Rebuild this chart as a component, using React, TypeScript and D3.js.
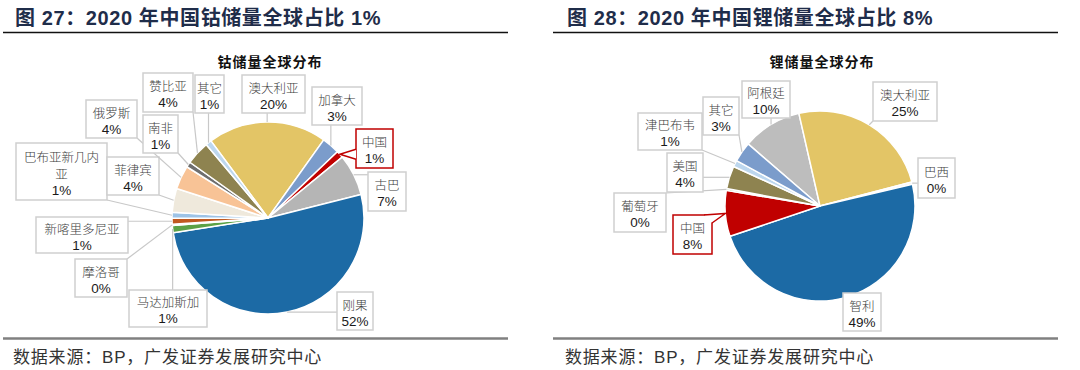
import React, { useRef, useEffect } from "react";
import * as d3 from "d3";

// cobalt reserves 2020, clockwise from 澳大利亚
const cobaltNames = ["澳大利亚", "加拿大", "中国", "古巴", "刚果", "马达加斯加", "摩洛哥", "新喀里多尼亚", "巴布亚新几内亚", "菲律宾", "俄罗斯", "南非", "赞比亚", "其它"];
const cobaltShares = [20, 3, 1.2, 7, 51.5, 1.2, 0.2, 1, 1, 4, 4, 0.9, 4, 1];

// lithium reserves 2020, clockwise from 阿根廷
const lithiumNames = ["阿根廷", "澳大利亚", "巴西", "智利", "中国", "葡萄牙", "美国", "津巴布韦", "其它"];
const lithiumShares = [10.1, 24.5, 0.4, 48.5, 7.8, 0.3, 3.9, 1.1, 3.4];

const panelTitles = ["图 27：2020 年中国钴储量全球占比 1%", "图 28：2020 年中国锂储量全球占比 8%"];
const chartTitles = ["钴储量全球分布", "锂储量全球分布"];
const sourceText = "数据来源：BP，广发证券发展研究中心";

// styles and layout
const cobaltColors = ["#E3C566", "#7B9CCB", "#C00000", "#B5B5B5", "#1C6AA5", "#5BA146", "#9E480E", "#C0581F", "#9DC3E6", "#EFE9DC", "#F8C396", "#6E6E6E", "#8E8350", "#BDD7EE"];
const lithiumColors = ["#BDBDBD", "#E3C566", "#F2F2F2", "#1C6AA5", "#C00000", "#5BA146", "#8E8350", "#BDD7EE", "#7B9CCB"];
// label boxes: centre offset from pie centre, width, height
const cobaltBoxes = [
  [5.5, -124, 63, 38], [69, -112, 50, 38], [106.5, -69.5, 37, 39], [119, -26.5, 38, 39],
  [87, 93, 36, 38], [-100, 90.5, 78, 37], [-167, 60, 52, 38], [-186, 17, 92, 36],
  [-206.5, -46.5, 91, 57], [-135, -42, 52, 38], [-156.5, -99, 51, 38], [-107.5, -84, 35, 38],
  [-100, -125.5, 50, 39], [-58.5, -124, 29, 38],
];
const lithiumBoxes = [
  [-54, -106.5, 48, 37], [85, -104.5, 64, 39], [116.5, -28, 37, 40], [42, 106, 38, 38],
  [-127.5, 28.5, 39, 39], [-180, 6.5, 52, 39], [-135, -33.5, 36, 39], [-150, -74.5, 64, 37],
  [-99, -90, 36, 38],
];

const panels = [
  { x0: 3, x1: 508, textX: 15, cx: 268, cy: 218, r: 96, start: -36.5, names: cobaltNames, values: cobaltShares, colors: cobaltColors, boxes: cobaltBoxes },
  { x0: 553, x1: 1058, textX: 567, cx: 820, cy: 206, r: 95, start: -49.2, names: lithiumNames, values: lithiumShares, colors: lithiumColors, boxes: lithiumBoxes },
];

const CJK = "'Noto Sans CJK SC', sans-serif";
const LATIN = "'Liberation Sans', Arial, 'Noto Sans CJK SC', sans-serif";

export default function App() {
  const svgRef = useRef<SVGSVGElement>(null);

  useEffect(() => {
    if (!svgRef.current) return;
    const svg = d3.select(svgRef.current);
    svg.selectAll("*").remove();

    panels.forEach((p, pi) => {
      const g = svg.append("g");

      // panel title and rules
      g.append("text")
        .attr("x", p.textX)
        .attr("y", 25)
        .attr("font-family", LATIN)
        .attr("font-size", 20)
        .attr("font-weight", "bold")
        .attr("letter-spacing", 0.6)
        .attr("fill", "#1F2D4A")
        .text(panelTitles[pi]);
      g.append("line")
        .attr("x1", p.x0).attr("x2", p.x1)
        .attr("y1", 32.5).attr("y2", 32.5)
        .attr("stroke", "#111").attr("stroke-width", 1.3);
      g.append("line")
        .attr("x1", p.x0).attr("x2", p.x1)
        .attr("y1", 338.5).attr("y2", 338.5)
        .attr("stroke", "#808080").attr("stroke-width", 2.5);
      g.append("text")
        .attr("x", p.textX - 2)
        .attr("y", 363)
        .attr("font-family", LATIN)
        .attr("font-size", 17)
        .attr("letter-spacing", 0.8)
        .attr("fill", "#333")
        .text(sourceText);

      // chart title
      g.append("text")
        .attr("x", p.cx + 2)
        .attr("y", 67)
        .attr("text-anchor", "middle")
        .attr("font-family", CJK)
        .attr("font-size", 14)
        .attr("font-weight", "bold")
        .attr("letter-spacing", 1)
        .attr("fill", "#111")
        .text(chartTitles[pi]);

      const start = (p.start * Math.PI) / 180;
      const pie = d3.pie<number>().sort(null).value((d) => d)
        .startAngle(start).endAngle(start + 2 * Math.PI);
      const arcs = pie(p.values);
      const arc = d3.arc<d3.PieArcDatum<number>>().innerRadius(0).outerRadius(p.r);

      const chart = g.append("g").attr("transform", `translate(${p.cx},${p.cy})`);
      chart.selectAll("path.slice")
        .data(arcs)
        .join("path")
        .attr("class", "slice")
        .attr("d", arc)
        .attr("fill", (_, i) => p.colors[i])
        .attr("stroke", "#fff")
        .attr("stroke-width", 1.5)
        .attr("stroke-linejoin", "round");

      const pct = d3.format(".0f");

      arcs.forEach((a, i) => {
        const [dx, dy, w, h] = p.boxes[i];
        const mid = (a.startAngle + a.endAngle) / 2;
        const tx = Math.sin(mid) * p.r;
        const ty = -Math.cos(mid) * p.r;
        const bx0 = dx - w / 2, bx1 = dx + w / 2, by0 = dy - h / 2, by1 = dy + h / 2;
        const nx = Math.max(bx0, Math.min(bx1, tx));
        const ny = Math.max(by0, Math.min(by1, ty));
        const isChina = p.names[i] === "中国";
        const border = isChina ? "#C00000" : "#CFCFCF";

        if (!isChina && Math.hypot(tx - nx, ty - ny) > 3) {
          chart.append("line")
            .attr("x1", nx).attr("y1", ny)
            .attr("x2", tx).attr("y2", ty)
            .attr("stroke", "#C8C8C8")
            .attr("stroke-width", 1.2);
        }

        chart.append("rect")
          .attr("x", bx0).attr("y", by0)
          .attr("width", w).attr("height", h)
          .attr("fill", "#fff")
          .attr("stroke", border)
          .attr("stroke-width", 1.5);

        if (isChina) {
          // callout pointer
          const inX = tx >= bx0 && tx <= bx1;
          const inY = ty >= by0 && ty <= by1;
          let b1: [number, number], b2: [number, number];
          if (!inX && inY) {
            b1 = [nx, Math.max(by0, ny - 5)];
            b2 = [nx, Math.min(by1, ny + 5)];
          } else if (inX && !inY) {
            b1 = [Math.max(bx0, nx - 5), ny];
            b2 = [Math.min(bx1, nx + 5), ny];
          } else {
            const sx = nx === bx0 ? 1 : -1;
            const sy = ny === by0 ? 1 : -1;
            b1 = [nx + sx * 8, ny];
            b2 = [nx, ny + sy * 8];
          }
          chart.append("path")
            .attr("d", `M${b1[0]},${b1[1]}L${tx},${ty}L${b2[0]},${b2[1]}`)
            .attr("fill", "#fff")
            .attr("stroke", border)
            .attr("stroke-width", 1.5)
            .attr("stroke-linejoin", "miter");
        }

        const name = p.names[i];
        const nameLines = name.length > 6 ? [name.slice(0, 6), name.slice(6)] : [name];
        const lines = [...nameLines, pct(Math.round(a.data)) + "%"];
        lines.forEach((t, li) => {
          const last = li === lines.length - 1;
          chart.append("text")
            .attr("x", dx)
            .attr("y", dy + (li - (lines.length - 1) / 2) * 17 + 1.5)
            .attr("text-anchor", "middle")
            .attr("dominant-baseline", "central")
            .attr("font-family", last ? LATIN : CJK)
            .attr("font-size", last ? 13.5 : 12.5)
            .attr("font-weight", last ? "normal" : 300)
            .attr("fill", last ? "#1a1a1a" : "#404040")
            .text(t);
        });
      });
    });
  }, []);

  return (
    <svg
      ref={svgRef}
      width={1080}
      height={370}
      style={{ position: "absolute", left: 0, top: 0, background: "#fff" }}
    />
  );
}
